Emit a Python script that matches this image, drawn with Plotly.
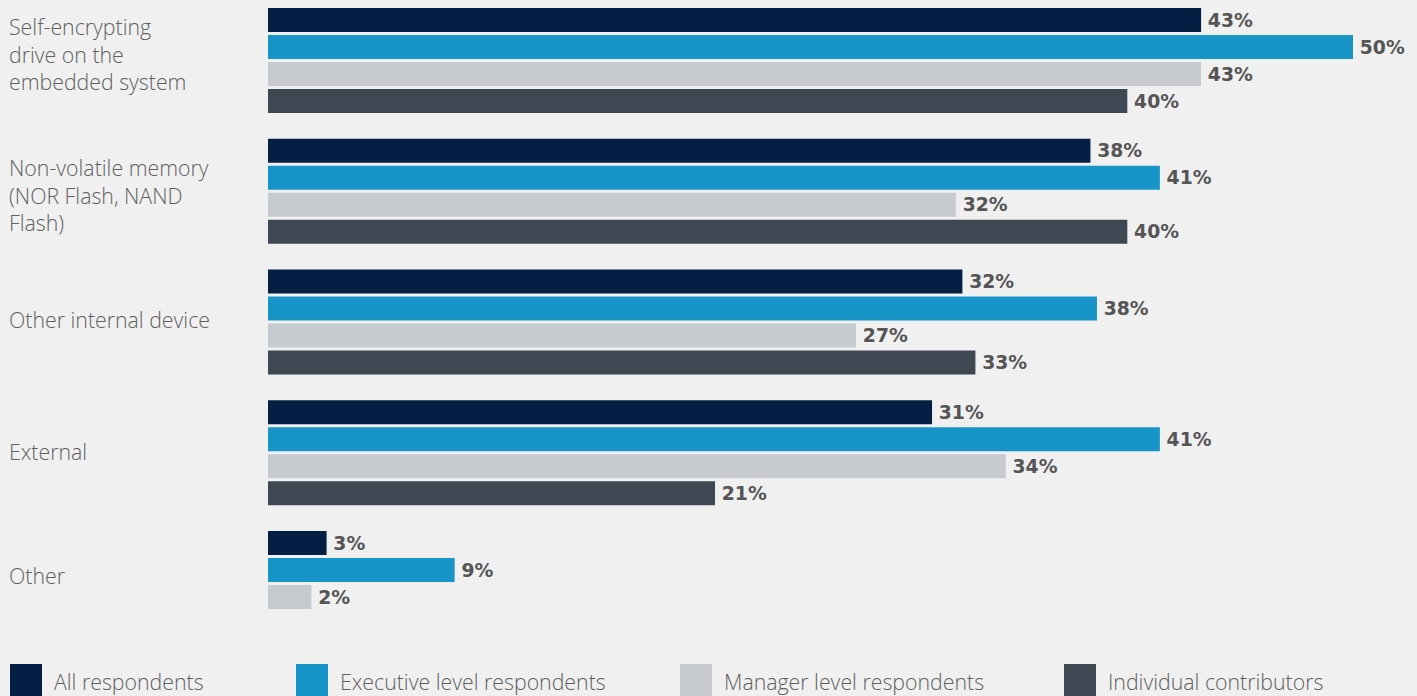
import plotly.graph_objects as go

categories = [
    "Self-encrypting<br>drive on the<br>embedded system",
    "Non-volatile memory<br>(NOR Flash, NAND<br>Flash)",
    "Other internal device",
    "External",
    "Other",
]
series_names = ["All respondents", "Executive level respondents",
                "Manager level respondents", "Individual contributors"]
all_resp = [43, 37.9, 32, 30.6, 2.7]
executive = [50, 41.1, 38.2, 41.1, 8.6]
manager = [43, 31.7, 27.1, 34, 2]
individual = [39.6, 39.6, 32.6, 20.6, None]

colors = ["#041f43", "#1795c9", "#c7cbcf", "#3d4852"]
values = [all_resp, executive, manager, individual]

W, H = 1417, 696
ML, MR, MT, MB = 268, 21, 0, 46
PW = W - ML - MR
PH = H - MT - MB

LABEL_FONT = dict(family="Open Sans", size=21.3, color="#606060", weight=300)
label_shift = [7, -4, 3, 1, 8]

fig = go.Figure()
for name, vals, col in zip(series_names, values, colors):
    txt = ["\u2009%d%%" % round(v) if v is not None else "" for v in vals]
    fig.add_trace(go.Bar(
        y=categories, x=vals, orientation="h", name=name,
        marker=dict(color=col, line=dict(width=0)),
        text=txt, textposition="outside", cliponaxis=False,
        constraintext="none",
        textfont=dict(family="DejaVu Sans", size=18.8, color="#555555",
                      weight="bold"),
        showlegend=False, hoverinfo="skip",
    ))

# category labels left-aligned
for c, s in zip(categories, label_shift):
    fig.add_annotation(
        xref="paper", yref="y", x=(7 - ML) / PW, y=c, text=c, yshift=s,
        xanchor="left", yanchor="middle", align="left", showarrow=False,
        font=LABEL_FONT,
    )

# legend
leg_x = [10, 296, 680, 1064]
for name, col, px in zip(series_names, colors, leg_x):
    fig.add_shape(type="rect", xref="paper", yref="paper",
                  x0=(px - ML) / PW, x1=(px + 32 - ML) / PW,
                  y0=(MT + PH - 664) / PH, y1=(MT + PH - 700) / PH,
                  fillcolor=col, line=dict(width=0))
    fig.add_annotation(xref="paper", yref="paper",
                       x=(px + 42 - ML) / PW, y=(MT + PH - 681) / PH,
                       text=name, xanchor="left", yanchor="middle",
                       showarrow=False, font=LABEL_FONT)

unit = 130.75
top_val = -60.5 / unit
bot_val = top_val + PH / unit

fig.update_layout(
    width=W, height=H,
    margin=dict(l=ML, r=MR, t=MT, b=MB, pad=0),
    paper_bgcolor="#f0f0f0", plot_bgcolor="#f0f0f0",
    barmode="group", bargap=0.174, bargroupgap=0.111,
    xaxis=dict(range=[0, PW / 21.7], visible=False, fixedrange=True),
    yaxis=dict(type="category", range=[bot_val, top_val],
               showticklabels=False, showgrid=False, zeroline=False,
               fixedrange=True),
    showlegend=False,
)

fig.write_html("out.html", config={"displayModeBar": False},
               post_script="document.body.style.margin='0';"
                           "document.body.style.overflow='hidden';")
